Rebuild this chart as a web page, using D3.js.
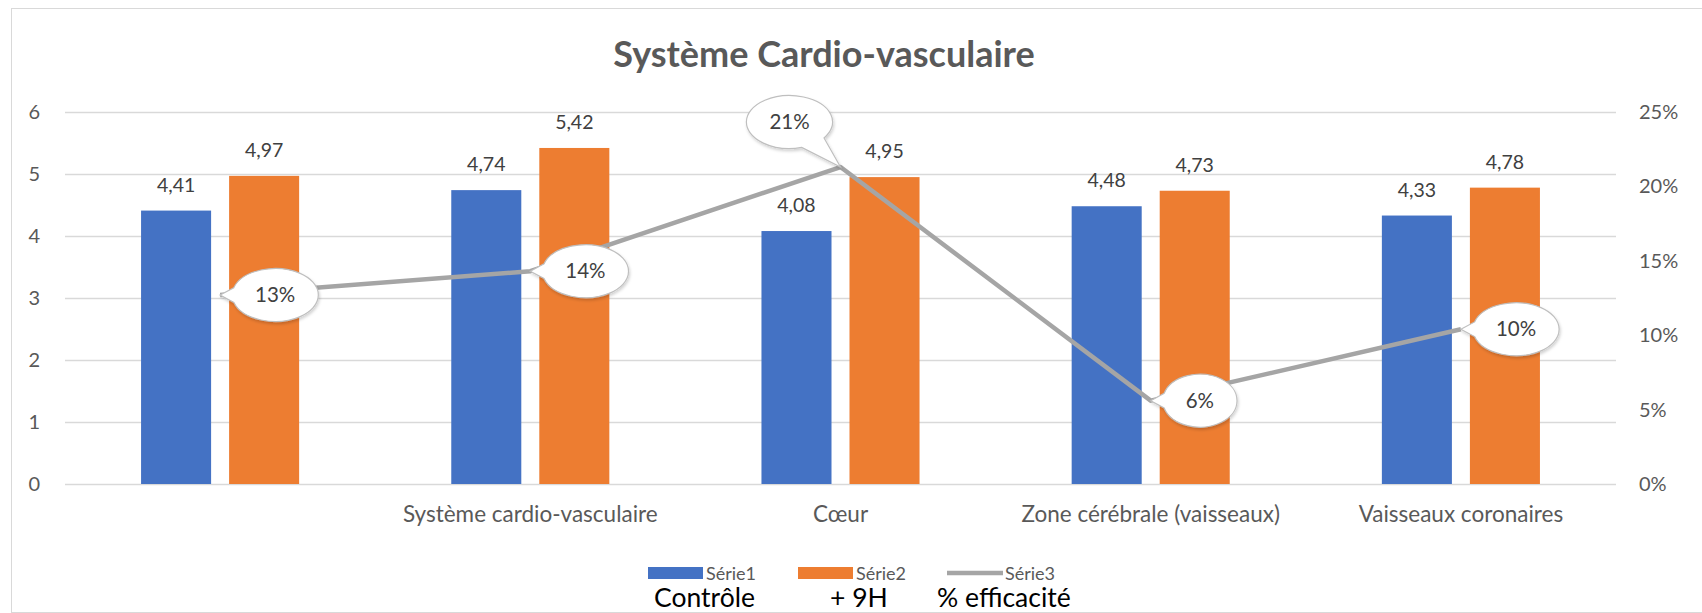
<!DOCTYPE html>
<html>
<head>
<meta charset="utf-8">
<script src="https://cdn.jsdelivr.net/npm/d3@7"></script>
<style>
  html, body { margin: 0; padding: 0; background: #fff; }
  svg { display: block; font-family: "Lato", "Open Sans", sans-serif; }
</style>
</head>
<body>
<svg id="chart" width="1702" height="613"></svg>
<script>
// values
var categories = ["", "Système cardio-vasculaire", "Cœur", "Zone cérébrale (vaisseaux)", "Vaisseaux coronaires"];
var serie1 = [4.41, 4.74, 4.08, 4.48, 4.33];
var serie2 = [4.97, 5.42, 4.95, 4.73, 4.78];
var serie3 = [0.127, 0.143, 0.213, 0.056, 0.104];
var seriesNames = ["Série1", "Série2", "Série3"];
var seriesNotes = ["Contrôle", "+ 9H", "% efficacité"];
var leftTicks = [0, 1, 2, 3, 4, 5, 6];
var rightTicks = [0, 0.05, 0.10, 0.15, 0.20, 0.25];

var width = 1702, height = 613;
var margin = {left: 65, right: 86, top: 112, bottom: 129};
var plotRight = width - margin.right;
var plotBottom = height - margin.bottom;

var colors = {s1: "#4472C4", s2: "#ED7D31", s3: "#A5A5A5"};
var textColor = "#595959";

var fr = d3.formatLocale({decimal: ",", thousands: " ", grouping: [3], currency: ["", " €"]});
var fmtVal = fr.format(".2f");
var fmtPct = d3.format(".0%");

var svg = d3.select("#chart");

var defs = svg.append("defs");
var shadow = defs.append("filter").attr("id", "shadow")
    .attr("x", "-30%").attr("y", "-30%").attr("width", "160%").attr("height", "160%");
shadow.append("feDropShadow").attr("dx", 1).attr("dy", 2)
    .attr("stdDeviation", 1.5).attr("flood-color", "#000").attr("flood-opacity", 0.18);

// chart area border
svg.append("rect")
    .attr("x", 11.5).attr("y", 8.5)
    .attr("width", width).attr("height", height - 9)
    .attr("fill", "#fff").attr("stroke", "#d9d9d9");

var x = d3.scaleBand()
    .domain(d3.range(categories.length))
    .range([margin.left, plotRight]);

var xs = d3.scaleBand()
    .domain(["s1", "s2"])
    .range([0, x.bandwidth()])
    .paddingInner(0.2045)
    .paddingOuter(0.864);

var y = d3.scaleLinear().domain([0, 6]).range([plotBottom, margin.top]);
var y2 = d3.scaleLinear().domain([0, 0.25]).range([plotBottom, margin.top]);

// gridlines
svg.append("g")
    .selectAll("line")
    .data(leftTicks)
    .enter().append("line")
    .attr("x1", margin.left).attr("x2", plotRight)
    .attr("y1", function(d) { return Math.round(y(d)) + 0.5; })
    .attr("y2", function(d) { return Math.round(y(d)) + 0.5; })
    .style("stroke", "#d9d9d9")
    .style("stroke-width", 1.5);

// axes
var leftAxis = svg.append("g")
    .attr("transform", "translate(" + margin.left + ",0)")
    .call(d3.axisLeft(y).tickValues(leftTicks).tickSize(0).tickPadding(25).tickFormat(d3.format("d")));
var rightAxis = svg.append("g")
    .attr("transform", "translate(" + plotRight + ",0)")
    .call(d3.axisRight(y2).tickValues(rightTicks).tickSize(0).tickPadding(23).tickFormat(fmtPct));
[leftAxis, rightAxis].forEach(function(a) {
  a.select(".domain").remove();
  a.selectAll("text")
      .style("font-family", "Lato, sans-serif")
      .style("font-size", "20px")
      .style("fill", textColor);
});

var xAxis = svg.append("g")
    .attr("transform", "translate(0," + plotBottom + ")")
    .call(d3.axisBottom(x).tickSize(0).tickPadding(22).tickFormat(function(i) { return categories[i]; }));
xAxis.select(".domain").remove();
xAxis.selectAll("text")
    .style("font-family", "Lato, sans-serif")
    .style("font-size", "22.5px")
    .style("fill", textColor);

// bars
var rows = categories.map(function(c, i) {
  return {i: i, s1: serie1[i], s2: serie2[i], s3: serie3[i]};
});

var groups = svg.append("g")
    .selectAll("g")
    .data(rows)
    .enter().append("g")
    .attr("transform", function(d) { return "translate(" + x(d.i) + ",0)"; });

["s1", "s2"].forEach(function(key) {
  groups.append("rect")
      .attr("x", xs(key))
      .attr("width", xs.bandwidth())
      .attr("y", function(d) { return y(d[key]); })
      .attr("height", function(d) { return plotBottom - y(d[key]); })
      .style("fill", colors[key]);

  groups.append("text")
      .attr("x", xs(key) + xs.bandwidth() / 2)
      .attr("y", function(d) { return y(d[key]) - 19; })
      .attr("text-anchor", "middle")
      .style("font-size", "19.5px")
      .style("fill", "#404040")
      .text(function(d) { return fmtVal(d[key]); });
});

// percentage line
var cx = function(d) { return x(d.i) + x.bandwidth() / 2; };
var line = d3.line()
    .x(cx)
    .y(function(d) { return y2(d.s3); });

svg.append("path")
    .datum(rows)
    .attr("d", line)
    .style("fill", "none")
    .style("stroke", colors.s3)
    .style("stroke-width", 4.5)
    .style("stroke-linejoin", "round");

// callout bubbles
var bubbles = svg.append("g")
    .selectAll("g")
    .data(rows)
    .enter().append("g");

bubbles.each(function(d) {
  var g = d3.select(this);
  var px = cx(d), py = y2(d.s3);
  var txt = g.append("text")
      .attr("text-anchor", "middle")
      .attr("dy", "0.35em")
      .style("font-size", "20.5px")
      .style("fill", "#404040")
      .text(fmtPct(d.s3));
  var tw = txt.node().getComputedTextLength();
  var rx = tw / 2 + 23, ry = 26.5;
  var bx, by;
  if (d.i === 2) { bx = px - 51; by = py - 45; }
  else { bx = px + rx + 12; by = py; }

  var t0 = Math.atan2((py - by) / ry, (px - bx) / rx);
  var dt = d.i === 2 ? 0.32 : 0.28;
  var p1 = [bx + rx * Math.cos(t0 + dt), by + ry * Math.sin(t0 + dt)];
  var p2 = [bx + rx * Math.cos(t0 - dt), by + ry * Math.sin(t0 - dt)];
  var path = "M" + px + "," + py +
      "L" + p1[0] + "," + p1[1] +
      "A" + rx + "," + ry + " 0 1 1 " + p2[0] + "," + p2[1] + "Z";

  g.insert("path", "text")
      .attr("d", path)
      .style("fill", "#fff")
      .style("stroke", "#bfbfbf")
      .style("stroke-width", 1.2)
      .attr("filter", "url(#shadow)");
  txt.attr("x", bx).attr("y", by);
});

// title
svg.append("text")
    .attr("x", 824)
    .attr("y", 67)
    .attr("text-anchor", "middle")
    .style("font-size", "36px")
    .style("font-weight", "bold")
    .style("fill", textColor)
    .text("Système Cardio-vasculaire");

// legend
var legendX = [648, 798, 947];
var legend = svg.append("g");
seriesNames.forEach(function(name, k) {
  var key = ["s1", "s2", "s3"][k];
  if (key === "s3") {
    legend.append("line")
        .attr("x1", legendX[k]).attr("x2", legendX[k] + 56)
        .attr("y1", 573).attr("y2", 573)
        .style("stroke", colors.s3).style("stroke-width", 4.5);
  } else {
    legend.append("rect")
        .attr("x", legendX[k]).attr("y", 567)
        .attr("width", 55).attr("height", 12)
        .style("fill", colors[key]);
  }
  legend.append("text")
      .attr("x", legendX[k] + 58)
      .attr("y", 580)
      .style("font-size", "18px")
      .style("fill", textColor)
      .text(name);
});

// notes under the legend
var noteX = [654, 830, 937];
svg.append("g")
    .selectAll("text")
    .data(seriesNotes)
    .enter().append("text")
    .attr("x", function(d, k) { return noteX[k]; })
    .attr("y", 607)
    .style("font-size", "26.5px")
    .style("fill", "#000")
    .text(function(d) { return d; });
</script>
</body>
</html>
